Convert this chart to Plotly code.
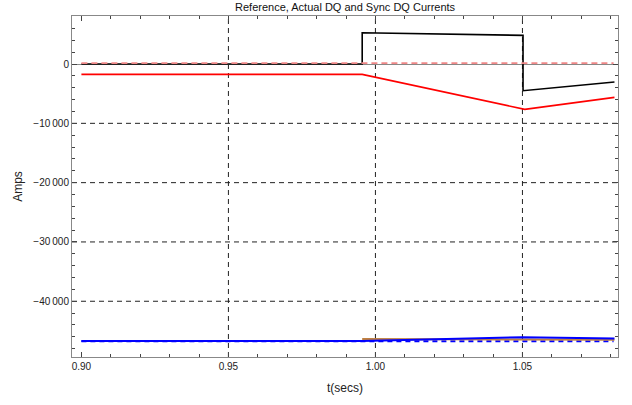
import plotly.graph_objects as go

# Reference currents
t_ref = [0.9, 1.081]
ref_d = [150, 150]
ref_q = [-46750, -46750]

# Actual DQ currents
t_act = [0.9, 0.9955, 0.9955, 1.0502, 1.0502, 1.0813]
act_d = [0, 0, 5280, 4840, -4500, -3035]
t_actq = [0.9, 0.9955, 1.05, 1.0813]
act_q = [-46700, -46700, -46050, -46300]

# Sync DQ currents
t_sync_d = [0.9, 0.9955, 1.0508, 1.0813]
sync_d = [-1740, -1740, -7640, -5620]
t_sync_q = [0.9955, 1.0813]
sync_q = [-46350, -46500]

x_ticks = [0.90, 0.95, 1.00, 1.05]
x_ticktext = ["0.90", "0.95", "1.00", "1.05"]
y_ticks = [0, -10000, -20000, -30000, -40000]
y_ticktext = ["0", "\u221210\u2009000", "\u221220\u2009000", "\u221230\u2009000", "\u221240\u2009000"]
x_grid = [0.95, 1.00, 1.05]
y_grid = [-10000, -20000, -30000, -40000]

fig = go.Figure()
fig.add_trace(go.Scatter(x=t_ref, y=ref_q, mode="lines", line=dict(color="#0000ff", width=2, dash="5px,4px")))
fig.add_trace(go.Scatter(x=t_sync_q, y=sync_q, mode="lines", line=dict(color="#c08040", width=2)))
fig.add_trace(go.Scatter(x=t_actq, y=act_q, mode="lines", line=dict(color="#0000ff", width=2)))
fig.add_trace(go.Scatter(x=t_act, y=act_d, mode="lines", line=dict(color="#000000", width=1.6)))
fig.add_trace(go.Scatter(x=t_ref, y=ref_d, mode="lines", line=dict(color="#f08888", width=1.8, dash="6px,4px")))
fig.add_trace(go.Scatter(x=t_sync_d, y=sync_d, mode="lines", line=dict(color="#ff0000", width=1.6)))

shapes = []
for gx in x_grid:
    shapes.append(dict(type="line", xref="x", yref="paper", x0=gx, x1=gx, y0=0, y1=1,
                       line=dict(color="#222222", width=1, dash="5px,4px"), layer="below"))
for gy in y_grid:
    shapes.append(dict(type="line", xref="paper", yref="y", x0=0, x1=1, y0=gy, y1=gy,
                       line=dict(color="#222222", width=1, dash="5px,4px"), layer="below"))

fig.update_layout(
    width=632, height=405,
    margin=dict(l=72, r=14, t=16, b=48),
    paper_bgcolor="white", plot_bgcolor="white",
    showlegend=False,
    shapes=shapes,
    font=dict(family="Liberation Sans, Arial, sans-serif", size=10, color="#222222"),
    title=dict(text="Reference, Actual DQ and Sync DQ Currents", x=0.546, xanchor="center",
               y=0.982, yanchor="middle", font=dict(size=11, color="#111111")),
)
fig.update_xaxes(
    range=[0.8968, 1.0825], showgrid=False, zeroline=False,
    tickvals=x_ticks, ticktext=x_ticktext, ticks="inside", ticklen=5, tickcolor="#444444",
    minor=dict(dtick=0.01, tick0=0.9, ticks="inside", ticklen=3, tickcolor="#444444"),
    showline=True, linecolor="#888888", linewidth=1, mirror="allticks",
    title=dict(text="t(secs)", standoff=12),
)
fig.update_yaxes(
    range=[-49400, 8100], showgrid=False, zeroline=True, zerolinecolor="#888888", zerolinewidth=1,
    tickvals=y_ticks, ticktext=y_ticktext, ticks="inside", ticklen=5, tickcolor="#444444",
    minor=dict(dtick=2000, tick0=0, ticks="inside", ticklen=3, tickcolor="#444444"),
    showline=True, linecolor="#888888", linewidth=1, mirror="allticks",
    title=dict(text="Amps", standoff=8),
)
fig.write_html("out.html")
